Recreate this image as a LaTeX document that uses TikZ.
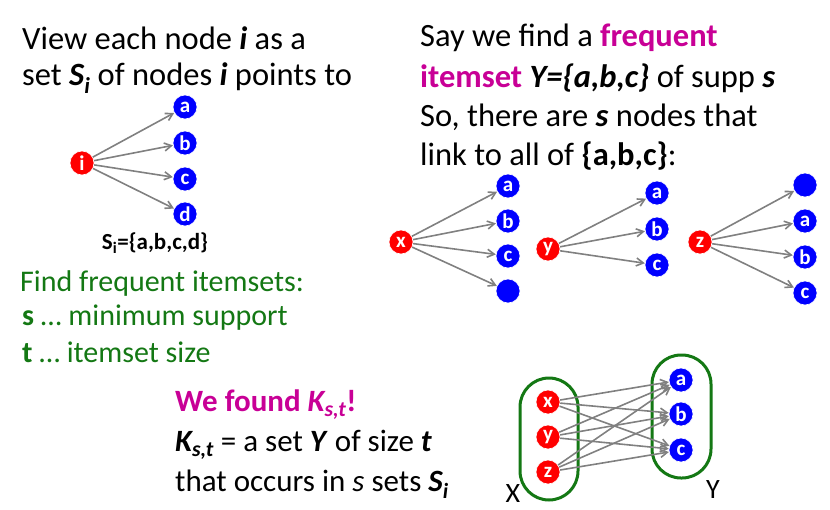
\documentclass[tikz,border=0pt]{standalone}
\usepackage{fontspec}
\setmainfont{Carlito}
\usetikzlibrary{arrows.meta}
\definecolor{mag}{RGB}{200,0,150}
\definecolor{grn}{RGB}{20,120,20}
\begin{document}
\begin{tikzpicture}[x=1pt,y=-1pt,
 rn/.style={circle,fill=red,draw=white,line width=0.6pt,minimum size=24pt,inner sep=0pt,text=white,font=\fontsize{21}{21}\selectfont\bfseries},
 bn/.style={circle,fill=blue,draw=white,line width=0.6pt,minimum size=24pt,inner sep=0pt,text=white,font=\fontsize{21}{21}\selectfont\bfseries},
 ar/.style={-{Straight Barb[length=7pt,width=8pt]},draw=gray,line width=1.6pt},
 big/.style={anchor=west,font=\fontsize{32.5}{34}\selectfont,inner sep=0pt},
 bot/.style={anchor=west,font=\fontsize{31}{32}\selectfont,inner sep=0pt},
 grt/.style={anchor=west,font=\fontsize{30}{32}\selectfont,text=grn,inner sep=0pt},
 grp/.style={rounded corners=29pt,draw=grn,line width=3pt}]
\useasboundingbox (0,0) rectangle (830,509);
% left
\node[big] (t1) at (22,38) {View each node \textbf{\textit{i}} as a};
\node[big] (t2) at (22,78) {set \textbf{\textit{S\textsubscript{i}}} of nodes \textbf{\textit{i}} points to};
\node[rn] (i) at (82,163) {i};
\node[bn] (ia) at (185,107) {a};
\node[bn] (ib) at (185,143) {b};
\node[bn] (ic) at (185,179) {c};
\node[bn] (id) at (185,214) {d};
\foreach \t in {ia,ib,ic,id} \draw[ar] (i) -- (\t);
\node[font=\fontsize{23}{24}\selectfont\bfseries] (si) at (155,243) {S\textsubscript{i}=\{a,b,c,d\}};
\node[grt] (g1) at (20,283) {Find frequent itemsets:};
\node[grt] (g2) at (22,318) {\textbf{s} … minimum support};
\node[grt] (g3) at (22,352) {\textbf{t} … itemset size};
% right text
\node[big] (r1) at (420,38) {Say we find a \textcolor{mag}{\textbf{frequent}}};
\node[big] (r2) at (420,78) {\textcolor{mag}{\textbf{itemset}} \textbf{\textit{Y=\{a,b,c\}}} of supp \textbf{\textit{s}}};
\node[big] (r3) at (420,117) {So, there are \textbf{\textit{s}} nodes that};
\node[big] (r4) at (420,156) {link to all of \textbf{\{a,b,c\}}:};
% x y z stars
\node[rn] (x) at (401,242) {x};
\node[bn] (xa) at (508,186) {a};
\node[bn] (xb) at (508,221) {b};
\node[bn] (xc) at (508,256) {c};
\node[bn] (xd) at (508,291) {};
\foreach \t in {xa,xb,xc,xd} \draw[ar] (x) -- (\t);
\node[rn] (y) at (548,249) {y};
\node[bn] (ya) at (657,193) {a};
\node[bn] (yb) at (657,229) {b};
\node[bn] (yc) at (657,265) {c};
\foreach \t in {ya,yb,yc} \draw[ar] (y) -- (\t);
\node[rn] (z) at (700,242) {z};
\node[bn] (zd) at (805,185) {};
\node[bn] (za) at (805,221) {a};
\node[bn] (zb) at (805,257) {b};
\node[bn] (zc) at (805,293) {c};
\foreach \t in {zd,za,zb,zc} \draw[ar] (z) -- (\t);
% bottom text
\node[bot,text=mag,font=\fontsize{31}{32}\selectfont\bfseries] (b1) at (175,405) {We found \textit{K\textsubscript{s,t}}!};
\node[bot] (b2) at (175,445) {\textbf{\textit{K\textsubscript{s,t}}} = a set \textbf{\textit{Y}} of size \textbf{\textit{t}}};
\node[bot] (b3) at (175,484) {that occurs in \textit{s} sets \textbf{\textit{S\textsubscript{i}}}};
% bipartite
\draw[grp] (520,378) rectangle (578,500);
\draw[grp] (652,355) rectangle (711,478);
\node[rn] (bx) at (548,402) {x};
\node[rn] (by) at (548,437) {y};
\node[rn] (bz) at (548,472) {z};
\node[bn] (ba) at (681,380) {a};
\node[bn] (bb) at (681,414) {b};
\node[bn] (bc) at (681,450) {c};
\foreach \s in {bx,by,bz} \foreach \t in {ba,bb,bc} \draw[ar] (\s) -- (\t);
\node[font=\fontsize{28}{28}\selectfont] (lx) at (513,494) {X};
\node[font=\fontsize{28}{28}\selectfont] (ly) at (713,490) {Y};
\end{tikzpicture}
\end{document}
